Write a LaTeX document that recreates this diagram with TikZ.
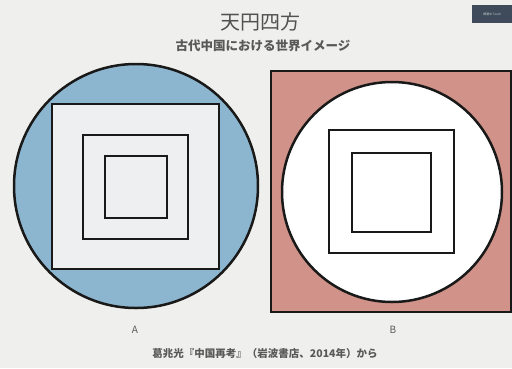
\documentclass[tikz,border=0pt]{standalone}
\usepackage{fontspec}
\setmainfont{Noto Sans CJK JP}
\begin{document}
\begin{tikzpicture}[x=1pt,y=-1pt,
  frame/.style={draw=black!90,line width=2.5pt},
  txt/.style={text=black!65,inner sep=0pt}]
\definecolor{bg}{HTML}{EFEFED}
\definecolor{skyb}{HTML}{8CB6CF}
\definecolor{sqfill}{HTML}{EEEFF1}
\definecolor{rose}{HTML}{D19389}
\definecolor{slate}{HTML}{3F4B5A}
\fill[bg] (0,0) rectangle (512,368);
\useasboundingbox (0,0) rectangle (512,368);
% top right tab
\node[fill=slate,minimum width=40pt,minimum height=18pt,inner sep=0pt,anchor=north west,text=white!70!slate,font=\fontsize{3}{3}\selectfont] (tab) at (472,5) {概要中 Teach};
% title
\node[txt,font=\fontsize{20}{22}\selectfont,text=black!68] (title) at (260,22) {天円四方};
\node[txt,font=\fontsize{12.5}{14}\selectfont\bfseries] (sub) at (263,46) {古代中国における世界イメージ};
% A
\node[frame,fill=skyb,circle,minimum size=244pt,inner sep=0pt] (ca) at (136,186) {};
\node[frame,fill=sqfill,minimum width=167pt,minimum height=165pt,inner sep=0pt] (sa1) at (135.5,186.5) {};
\node[frame,fill=sqfill,minimum width=105pt,minimum height=104pt,inner sep=0pt] (sa2) at (135.5,187) {};
\node[frame,fill=sqfill,minimum width=62pt,minimum height=62pt,inner sep=0pt] (sa3) at (136,187) {};
% B
\node[frame,fill=rose,minimum width=240pt,minimum height=241pt,inner sep=0pt] (sb) at (391,191.5) {};
\node[frame,fill=white,circle,minimum size=220pt,inner sep=0pt] (cb) at (392,192) {};
\node[frame,fill=white,minimum width=125pt,minimum height=123pt,inner sep=0pt] (sb1) at (391.5,191.5) {};
\node[frame,fill=white,minimum width=79pt,minimum height=79pt,inner sep=0pt] (sb2) at (391.5,192.5) {};
% labels
\node[txt,font=\fontsize{10}{11}\selectfont] (la) at (135,330) {A};
\node[txt,font=\fontsize{10}{11}\selectfont] (lb) at (393,330) {B};
\node[txt,font=\fontsize{10.5}{12}\selectfont\bfseries] (cap) at (265,354) {葛兆光『中国再考』（岩波書店、2014年）から};
\end{tikzpicture}
\end{document}
